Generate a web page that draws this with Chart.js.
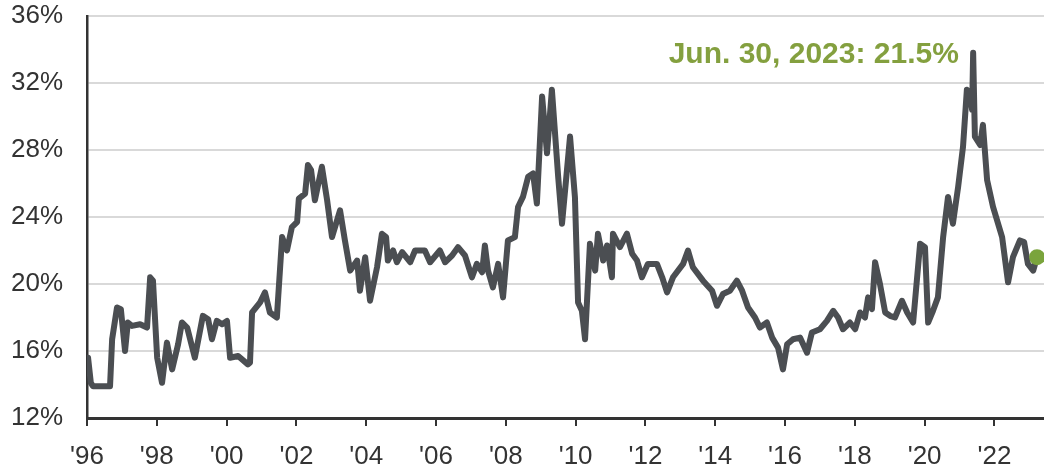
<!DOCTYPE html>
<html>
<head>
<meta charset="utf-8">
<script src="https://cdn.jsdelivr.net/npm/chart.js@4.4.1/dist/chart.umd.min.js"></script>
<style>
  html, body { margin: 0; padding: 0; background: #ffffff; }
  #wrap { width: 1044px; height: 468px; }
</style>
</head>
<body>
<div id="wrap"><canvas id="c" width="1044" height="468"></canvas></div>
<script>
// ---- Data ----
const dates = [
  1996.03, 1996.11, 1996.17, 1996.66, 1996.72, 1996.86, 1996.97, 1997.09, 1997.17, 1997.29,
  1997.52, 1997.72, 1997.81, 1997.89, 1998.01, 1998.15, 1998.29, 1998.44, 1998.61, 1998.72,
  1998.87, 1999.09, 1999.32, 1999.47, 1999.58, 1999.72, 1999.87, 2000.01, 2000.10, 2000.33,
  2000.61, 2000.67, 2000.73, 2000.96, 2001.10, 2001.24, 2001.44, 2001.59, 2001.73, 2001.87,
  2002.02, 2002.07, 2002.25, 2002.33, 2002.42, 2002.53, 2002.73, 2002.88, 2003.02, 2003.25,
  2003.39, 2003.54, 2003.74, 2003.82, 2003.97, 2004.11, 2004.31, 2004.45, 2004.57, 2004.62,
  2004.77, 2004.88, 2005.03, 2005.26, 2005.40, 2005.68, 2005.83, 2006.11, 2006.26, 2006.46,
  2006.63, 2006.83, 2007.03, 2007.17, 2007.32, 2007.40, 2007.49, 2007.63, 2007.78, 2007.92,
  2008.06, 2008.26, 2008.35, 2008.49, 2008.64, 2008.78, 2008.89, 2009.04, 2009.18, 2009.32,
  2009.50, 2009.61, 2009.84, 2009.98, 2010.07, 2010.18, 2010.27, 2010.41, 2010.56, 2010.64,
  2010.79, 2010.90, 2011.04, 2011.07, 2011.27, 2011.47, 2011.62, 2011.76, 2011.90, 2012.07,
  2012.33, 2012.48, 2012.62, 2012.79, 2013.08, 2013.22, 2013.36, 2013.65, 2013.91, 2014.05,
  2014.22, 2014.42, 2014.62, 2014.77, 2014.94, 2015.14, 2015.28, 2015.48, 2015.63, 2015.80,
  2015.94, 2016.06, 2016.23, 2016.43, 2016.63, 2016.77, 2017.00, 2017.20, 2017.38, 2017.52,
  2017.66, 2017.86, 2018.01, 2018.15, 2018.29, 2018.38, 2018.49, 2018.58, 2018.72, 2018.87,
  2019.01, 2019.15, 2019.35, 2019.50, 2019.67, 2019.87, 2020.01, 2020.10, 2020.24, 2020.38,
  2020.53, 2020.67, 2020.81, 2020.96, 2021.10, 2021.21, 2021.30, 2021.36, 2021.39, 2021.44,
  2021.59, 2021.67, 2021.79, 2021.96, 2022.22, 2022.39, 2022.53, 2022.73, 2022.85, 2022.96,
  2023.11, 2023.22
];
const forwardPE = [
  15.6, 14.1, 13.9, 13.9, 16.7, 18.6, 18.5, 16.0, 17.7, 17.5,
  17.6, 17.4, 20.4, 20.2, 15.6, 14.1, 16.5, 14.9, 16.4, 17.7,
  17.4, 15.6, 18.1, 17.9, 16.7, 17.8, 17.6, 17.8, 15.6, 15.7,
  15.2, 15.3, 18.3, 18.9, 19.5, 18.3, 18.0, 22.8, 22.0, 23.4,
  23.7, 25.1, 25.4, 27.1, 26.8, 25.0, 27.0, 25.0, 22.8, 24.4,
  22.6, 20.8, 21.4, 19.6, 21.6, 19.0, 21.0, 23.0, 22.8, 21.4,
  22.0, 21.3, 21.9, 21.3, 22.0, 22.0, 21.3, 22.0, 21.3, 21.7,
  22.2, 21.7, 20.4, 21.2, 20.7, 22.3, 20.8, 19.8, 21.2, 19.2,
  22.6, 22.8, 24.6, 25.2, 26.4, 26.6, 24.8, 31.2, 27.8, 31.6,
  26.4, 23.6, 28.8, 25.2, 18.9, 18.4, 16.7, 22.4, 20.8, 23.0,
  21.4, 22.3, 20.4, 23.0, 22.2, 23.0, 21.8, 21.4, 20.4, 21.2,
  21.2, 20.4, 19.5, 20.4, 21.2, 22.0, 21.0, 20.2, 19.6, 18.7,
  19.4, 19.6, 20.2, 19.6, 18.6, 18.0, 17.4, 17.7, 16.8, 16.2,
  14.9, 16.4, 16.7, 16.8, 15.9, 17.1, 17.3, 17.8, 18.4, 18.0,
  17.3, 17.7, 17.3, 18.3, 18.0, 19.2, 18.5, 21.3, 20.0, 18.3,
  18.1, 18.0, 19.0, 18.3, 17.7, 22.4, 22.2, 17.7, 18.4, 19.2,
  22.8, 25.2, 23.6, 25.8, 28.2, 31.6, 31.4, 30.4, 33.8, 28.8,
  28.3, 29.5, 26.2, 24.6, 22.8, 20.1, 21.6, 22.6, 22.5, 21.2,
  20.8, 21.6
];
const latestDate = [2023.22];
const latestValue = [21.6];
const latestLabel = "Jun. 30, 2023: 21.5%";
const tickYears = [1996, 1998, 2000, 2002, 2004, 2006, 2008, 2010, 2012, 2014, 2016, 2018, 2020, 2022];
const tickLabels = ["'96", "'98", "'00", "'02", "'04", "'06", "'08", "'10", "'12", "'14", "'16", "'18", "'20", "'22"];
const yTicks = [12, 16, 20, 24, 28, 32, 36];

// ---- Chart ----
const FONT = "'Liberation Sans', Arial, sans-serif";
const lineData = dates.map((d, i) => ({ x: d, y: forwardPE[i] }));
const dotData = latestDate.map((d, i) => ({ x: d, y: latestValue[i] }));

const annotationPlugin = {
  id: 'latestLabel',
  afterDatasetsDraw(chart) {
    const ctx = chart.ctx;
    const xs = chart.scales.x, ys = chart.scales.y;
    ctx.save();
    ctx.font = "bold 30px " + FONT;
    ctx.fillStyle = '#84a03f';
    ctx.textAlign = 'right';
    ctx.textBaseline = 'alphabetic';
    ctx.fillText(latestLabel, xs.getPixelForValue(2020.98), ys.getPixelForValue(33.2));
    ctx.restore();
  }
};

new Chart(document.getElementById('c'), {
  type: 'line',
  data: {
    datasets: [
      {
        data: lineData,
        borderColor: '#4b4e52',
        borderWidth: 6,
        pointRadius: 0,
        tension: 0,
        fill: false,
        borderJoinStyle: 'round',
        borderCapStyle: 'round',
        order: 2
      },
      {
        data: dotData,
        showLine: false,
        pointRadius: 8,
        pointBackgroundColor: '#7aa43c',
        pointBorderColor: '#7aa43c',
        pointBorderWidth: 0,
        clip: false,
        order: 1
      }
    ]
  },
  options: {
    responsive: false,
    animation: false,
    events: [],
    layout: { autoPadding: false, padding: { top: 16, right: 0, bottom: 0, left: 0 } },
    plugins: { legend: { display: false }, tooltip: { enabled: false }, title: { display: false } },
    scales: {
      x: {
        type: 'linear',
        min: 1996,
        max: 2023.42,
        afterBuildTicks: (s) => { s.ticks = tickYears.map(v => ({ value: v })); },
        afterFit: (s) => { s.height = 50; s.paddingLeft = 0; s.paddingRight = 0; },
        ticks: {
          callback: (v) => { const i = tickYears.indexOf(v); return i >= 0 ? tickLabels[i] : ''; },
          color: '#333333',
          font: { family: FONT, size: 26 },
          padding: 15,
          maxRotation: 0,
          autoSkip: false
        },
        grid: { drawOnChartArea: false, drawTicks: true, tickLength: 8, color: '#333333', lineWidth: 2 },
        border: { display: true, color: '#333333', width: 3 }
      },
      y: {
        min: 12,
        max: 36,
        afterBuildTicks: (s) => { s.ticks = yTicks.map(v => ({ value: v })); },
        afterFit: (s) => { s.width = 87; s.paddingTop = 0; s.paddingBottom = 0; },
        ticks: {
          callback: (v) => v + '%',
          color: '#333333',
          font: { family: FONT, size: 26 },
          padding: 24
        },
        grid: { color: '#d9d9d9', lineWidth: 2, drawTicks: false },
        border: { display: true, color: '#333333', width: 2.5 }
      }
    }
  },
  plugins: [annotationPlugin]
});
</script>
</body>
</html>
